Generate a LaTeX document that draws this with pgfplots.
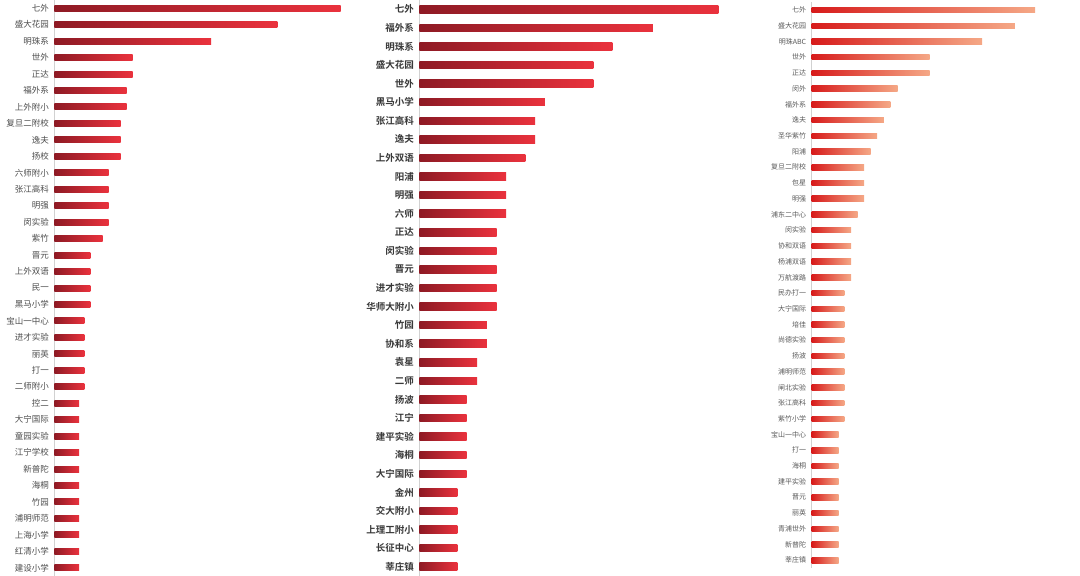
\documentclass[border=0pt]{standalone}
\usepackage{fontspec}
\usepackage{pgfplots}
\pgfplotsset{compat=1.18}
\newfontfamily\cjk{Noto Sans CJK SC}
\newfontfamily\cjkb{Noto Sans CJK SC Bold}
\definecolor{darkred}{HTML}{8E1A24}
\definecolor{brightred}{HTML}{EA323D}
\definecolor{redA}{HTML}{D71B1B}
\definecolor{salmon}{HTML}{F5A886}
\pgfplotsset{
  panel/.style={
    scale only axis, y dir=reverse, xmin=0,
    hide x axis, axis y line*=left,
    y axis line style={black!18, line width=0.8pt},
    major tick length=0pt, ytick={0,...,40},
    yticklabel style={anchor=east, xshift=-2pt},
    clip=false,
  },
  barA/.style={xbar, bar width=6pt, draw=none, left color=darkred, right color=brightred, forget plot},
  barB/.style={xbar, bar width=7.5pt, draw=none, left color=darkred, right color=brightred, forget plot},
  barC/.style={xbar, bar width=5.5pt, draw=none, left color=redA, right color=salmon, forget plot},
}
\begin{document}
\begin{tikzpicture}
\path[use as bounding box] (0,0) rectangle (1080pt,576pt);
% Panel 1
\begin{axis}[panel, at={(54.3pt,0pt)}, anchor=south west,
  width=301.5pt, height=576pt, xmax=50, ymin=-0.5, ymax=34.5,
  yticklabel style={font=\cjk\fontsize{8.5}{9}\selectfont, text=black!70},
  yticklabels={七外,盛大花园,明珠系,世外,正达,福外系,上外附小,复旦二附校,逸夫,扬校,六师附小,张江高科,明强,闵实验,紫竹,晋元,上外双语,民一,黑马小学,宝山一中心,进才实验,丽英,打一,二师附小,控二,大宁国际,童园实验,江宁学校,新普陀,海桐,竹园,浦明师范,上海小学,红清小学,建设小学}]
\addplot[barA] coordinates {(47.5,0)}; \addplot[barA] coordinates {(37,1)};
\addplot[barA] coordinates {(26,2)};   \addplot[barA] coordinates {(13,3)};
\addplot[barA] coordinates {(13,4)};   \addplot[barA] coordinates {(12,5)};
\addplot[barA] coordinates {(12,6)};   \addplot[barA] coordinates {(11,7)};
\addplot[barA] coordinates {(11,8)};   \addplot[barA] coordinates {(11,9)};
\addplot[barA] coordinates {(9,10)};   \addplot[barA] coordinates {(9,11)};
\addplot[barA] coordinates {(9,12)};   \addplot[barA] coordinates {(9,13)};
\addplot[barA] coordinates {(8,14)};   \addplot[barA] coordinates {(6,15)};
\addplot[barA] coordinates {(6,16)};   \addplot[barA] coordinates {(6,17)};
\addplot[barA] coordinates {(6,18)};   \addplot[barA] coordinates {(5,19)};
\addplot[barA] coordinates {(5,20)};   \addplot[barA] coordinates {(5,21)};
\addplot[barA] coordinates {(5,22)};   \addplot[barA] coordinates {(5,23)};
\addplot[barA] coordinates {(4.1,24)}; \addplot[barA] coordinates {(4.1,25)};
\addplot[barA] coordinates {(4.1,26)}; \addplot[barA] coordinates {(4.1,27)};
\addplot[barA] coordinates {(4.1,28)}; \addplot[barA] coordinates {(4.1,29)};
\addplot[barA] coordinates {(4.1,30)}; \addplot[barA] coordinates {(4.1,31)};
\addplot[barA] coordinates {(4.1,32)}; \addplot[barA] coordinates {(4.1,33)};
\addplot[barA] coordinates {(4.1,34)};
\end{axis}
% Panel 2
\begin{axis}[panel, at={(419.3pt,0pt)}, anchor=south west,
  width=308.8pt, height=576pt, xmax=32, ymin=-0.5, ymax=30.5,
  yticklabel style={font=\cjkb\fontsize{9.5}{10}\selectfont, text=black!78},
  yticklabels={七外,福外系,明珠系,盛大花园,世外,黑马小学,张江高科,逸夫,上外双语,阳浦,明强,六师,正达,闵实验,晋元,进才实验,华师大附小,竹园,协和系,袁星,二师,扬波,江宁,建平实验,海桐,大宁国际,金州,交大附小,上理工附小,长征中心,莘庄镇}]
\addplot[barB] coordinates {(31,0)};    \addplot[barB] coordinates {(24.2,1)};
\addplot[barB] coordinates {(20,2)};    \addplot[barB] coordinates {(18.05,3)};
\addplot[barB] coordinates {(18.05,4)}; \addplot[barB] coordinates {(13,5)};
\addplot[barB] coordinates {(12,6)};    \addplot[barB] coordinates {(12,7)};
\addplot[barB] coordinates {(11,8)};    \addplot[barB] coordinates {(9,9)};
\addplot[barB] coordinates {(9,10)};    \addplot[barB] coordinates {(9,11)};
\addplot[barB] coordinates {(8,12)};    \addplot[barB] coordinates {(8,13)};
\addplot[barB] coordinates {(8,14)};    \addplot[barB] coordinates {(8,15)};
\addplot[barB] coordinates {(8,16)};    \addplot[barB] coordinates {(7,17)};
\addplot[barB] coordinates {(7,18)};    \addplot[barB] coordinates {(6,19)};
\addplot[barB] coordinates {(6,20)};    \addplot[barB] coordinates {(4.9,21)};
\addplot[barB] coordinates {(4.9,22)};  \addplot[barB] coordinates {(4.9,23)};
\addplot[barB] coordinates {(4.9,24)};  \addplot[barB] coordinates {(4.9,25)};
\addplot[barB] coordinates {(3.95,26)}; \addplot[barB] coordinates {(3.95,27)};
\addplot[barB] coordinates {(3.95,28)}; \addplot[barB] coordinates {(3.95,29)};
\addplot[barB] coordinates {(3.95,30)};
\end{axis}
% Panel 3
\begin{axis}[panel, at={(811.7pt,7.8pt)}, anchor=south west,
  width=235.8pt, height=566pt, xmax=36, ymin=-0.5, ymax=35.5,
  yticklabel style={font=\cjk\fontsize{7}{7.5}\selectfont, text=black!65},
  yticklabels={七外,盛大花园,明珠ABC,世外,正达,闵外,福外系,逸夫,圣华紫竹,阳浦,复旦二附校,包星,明强,浦东二中心,闵实验,协和双语,杨浦双语,万航渡路,民办打一,大宁国际,培佳,尚德实验,扬波,浦明师范,闸北实验,张江高科,紫竹小学,宝山一中心,打一,海桐,建平实验,晋元,丽英,青浦世外,新普陀,莘庄镇}]
\addplot[barC] coordinates {(34.1,0)};  \addplot[barC] coordinates {(31,1)};
\addplot[barC] coordinates {(26,2)};    \addplot[barC] coordinates {(18,3)};
\addplot[barC] coordinates {(18,4)};    \addplot[barC] coordinates {(13.1,5)};
\addplot[barC] coordinates {(12,6)};    \addplot[barC] coordinates {(11,7)};
\addplot[barC] coordinates {(10,8)};    \addplot[barC] coordinates {(9,9)};
\addplot[barC] coordinates {(8,10)};    \addplot[barC] coordinates {(8,11)};
\addplot[barC] coordinates {(8,12)};    \addplot[barC] coordinates {(7,13)};
\addplot[barC] coordinates {(6,14)};    \addplot[barC] coordinates {(6,15)};
\addplot[barC] coordinates {(6,16)};    \addplot[barC] coordinates {(6,17)};
\addplot[barC] coordinates {(5,18)};    \addplot[barC] coordinates {(5,19)};
\addplot[barC] coordinates {(5,20)};    \addplot[barC] coordinates {(5,21)};
\addplot[barC] coordinates {(5,22)};    \addplot[barC] coordinates {(5,23)};
\addplot[barC] coordinates {(5,24)};    \addplot[barC] coordinates {(5,25)};
\addplot[barC] coordinates {(5,26)};    \addplot[barC] coordinates {(4.1,27)};
\addplot[barC] coordinates {(4.1,28)};  \addplot[barC] coordinates {(4.1,29)};
\addplot[barC] coordinates {(4.1,30)};  \addplot[barC] coordinates {(4.1,31)};
\addplot[barC] coordinates {(4.1,32)};  \addplot[barC] coordinates {(4.1,33)};
\addplot[barC] coordinates {(4.1,34)};  \addplot[barC] coordinates {(4.1,35)};
\end{axis}
\end{tikzpicture}
\end{document}
